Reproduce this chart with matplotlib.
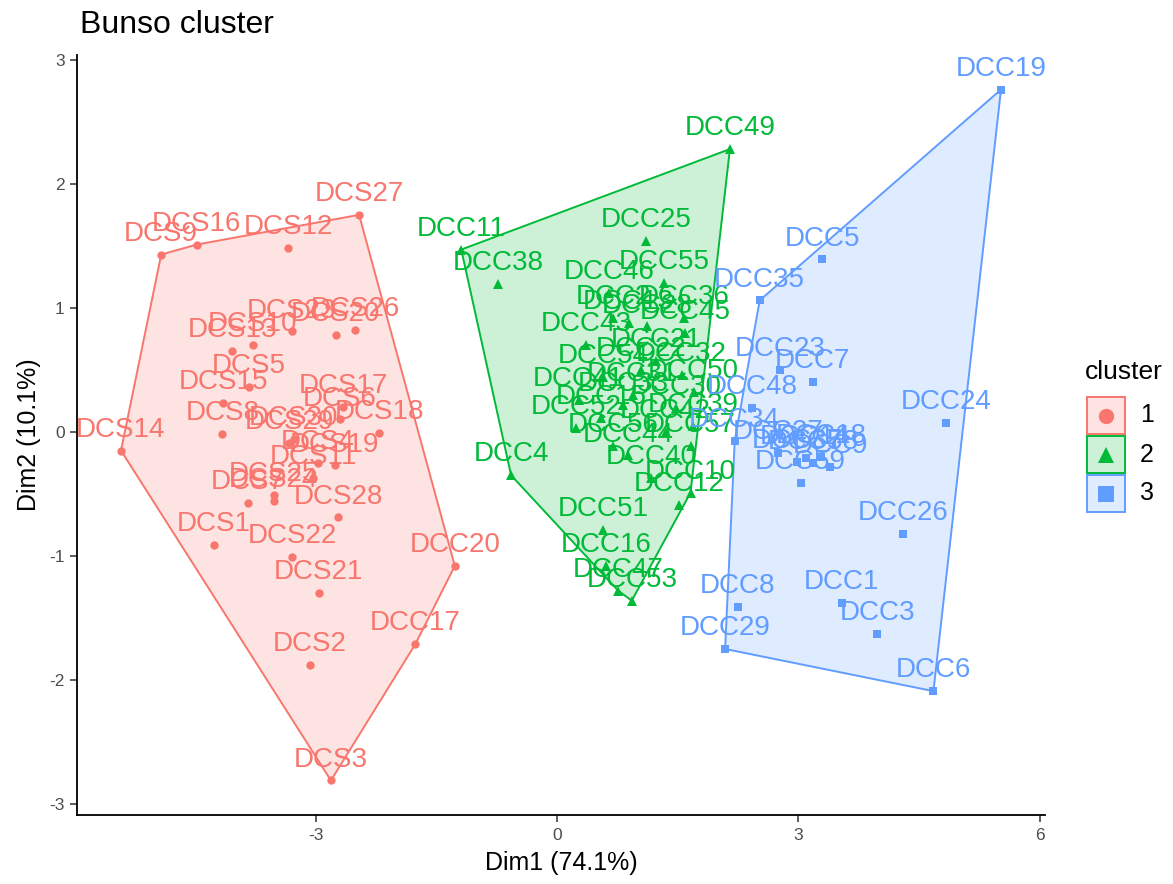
import numpy as np
import matplotlib
matplotlib.use("Agg")
import matplotlib.pyplot as plt
from matplotlib.patches import Polygon, Rectangle

plt.rcParams['font.family'] = ['Liberation Sans', 'DejaVu Sans']
plt.rcParams['axes.unicode_minus'] = False

# ---- cluster 1 ----
c1_names = ["DCS1", "DCS2", "DCS3", "DCS4", "DCS5", "DCS6", "DCS7", "DCS8", "DCS9", "DCS10",
            "DCS11", "DCS12", "DCS13", "DCS14", "DCS15", "DCS16", "DCS17", "DCS18", "DCS19", "DCS20",
            "DCS21", "DCS22", "DCS23", "DCS24", "DCS25", "DCS26", "DCS27", "DCS28", "DCS29", "DCS30",
            "DCC17", "DCC20"]
c1_x = [-4.27, -3.07, -2.81, -2.97, -3.83, -2.70, -3.84, -4.16, -4.92, -3.78,
        -3.03, -3.34, -4.04, -5.42, -4.15, -4.48, -2.66, -2.21, -2.76, -2.75,
        -2.96, -3.29, -3.30, -3.52, -3.52, -2.51, -2.46, -2.72, -3.33, -3.27,
        -1.76, -1.27]
c1_y = [-0.91, -1.88, -2.81, -0.25, 0.36, 0.10, -0.57, -0.02, 1.43, 0.70,
        -0.37, 1.48, 0.65, -0.15, 0.23, 1.51, 0.20, -0.01, -0.27, 0.78,
        -1.30, -1.01, 0.81, -0.56, -0.51, 0.82, 1.75, -0.69, -0.09, -0.06,
        -1.71, -1.08]

# ---- cluster 2 ----
c2_names = ["DCC2", "DCC4", "DCC10", "DCC11", "DCC12", "DCC13", "DCC15", "DCC16", "DCC21", "DCC22",
            "DCC25", "DCC28", "DCC30", "DCC31", "DCC32", "DCC33", "DCC36", "DCC38", "DCC39", "DCC40",
            "DCC41", "DCC42", "DCC43", "DCC44", "DCC45", "DCC46", "DCC47", "DCC49", "DCC50", "DCC51",
            "DCC52", "DCC53", "DCC54", "DCC55", "DCC56", "DCC57"]
c2_x = [0.70, -0.57, 1.66, -1.19, 1.52, 0.89, 0.55, 0.61, 1.23, 1.04,
        1.11, 1.12, 1.48, 0.94, 1.55, 0.82, 1.58, -0.73, 1.69, 1.17,
        0.27, 1.35, 0.36, 0.88, 1.59, 0.65, 0.76, 2.15, 1.70, 0.57,
        0.24, 0.93, 0.57, 1.33, 0.70, 1.66]
c2_y = [0.92, -0.35, -0.49, 1.47, -0.59, 0.88, 0.11, -1.08, 0.57, 0.50,
        1.54, 0.85, 0.19, 0.30, 0.46, 0.22, 0.92, 1.19, 0.05, -0.37,
        0.26, 0.00, 0.70, -0.19, 0.80, 1.12, -1.28, 2.28, 0.32, -0.79,
        0.03, -1.36, 0.44, 1.20, -0.11, -0.11]

# ---- cluster 3 ----
c3_names = ["DCC1", "DCC3", "DCC5", "DCC6", "DCC7", "DCC8", "DCC9", "DCC14", "DCC18", "DCC19",
            "DCC23", "DCC24", "DCC26", "DCC27", "DCC29", "DCC34", "DCC35", "DCC37", "DCC48", "DCC58",
            "DCC59"]
c3_x = [3.54, 3.98, 3.30, 4.68, 3.18, 2.25, 3.40, 3.09, 3.28, 5.52,
        2.77, 4.84, 4.30, 2.75, 2.09, 2.21, 2.52, 2.99, 2.43, 3.18,
        3.03]
c3_y = [-1.38, -1.63, 1.39, -2.09, 0.40, -1.41, -0.28, -0.21, -0.20, 2.76,
        0.50, 0.07, -0.82, -0.17, -1.75, -0.07, 1.06, -0.24, 0.19, -0.25,
        -0.41]

cluster_labels = ["1", "2", "3"]
colors = ["#F8766D", "#00BA38", "#619CFF"]
markers = ["o", "^", "s"]
marker_sizes = [6, 6.5, 5.5]

clusters = [(c1_names, c1_x, c1_y), (c2_names, c2_x, c2_y), (c3_names, c3_x, c3_y)]


def convex_hull(xs, ys):
    pts = sorted(set(zip(xs, ys)))

    def cross(o, a, b):
        return (a[0] - o[0]) * (b[1] - o[1]) - (a[1] - o[1]) * (b[0] - o[0])

    lower, upper = [], []
    for p in pts:
        while len(lower) >= 2 and cross(lower[-2], lower[-1], p) <= 0:
            lower.pop()
        lower.append(p)
    for p in reversed(pts):
        while len(upper) >= 2 and cross(upper[-2], upper[-1], p) <= 0:
            upper.pop()
        upper.append(p)
    return np.array(lower[:-1] + upper[:-1])


W, H = 1173, 884
fig = plt.figure(figsize=(W / 100, H / 100), dpi=100)
ax = fig.add_axes([77 / W, 1 - 815 / H, (1045 - 77) / W, (815 - 55) / H])

all_x = np.concatenate([c1_x, c2_x, c3_x])
all_y = np.concatenate([c1_y, c2_y, c3_y])
xr = all_x.max() - all_x.min()
yr = all_y.max() - all_y.min()
ax.set_xlim(all_x.min() - 0.05 * xr, all_x.max() + 0.05 * xr)
ax.set_ylim(all_y.min() - 0.05 * yr, all_y.max() + 0.05 * yr)

# hulls
for (names, xs, ys), col in zip(clusters, colors):
    hull = convex_hull(xs, ys)
    ax.add_patch(Polygon(hull, closed=True, facecolor=col, alpha=0.2, edgecolor="none", zorder=1))
    ax.add_patch(Polygon(hull, closed=True, facecolor="none", edgecolor=col, linewidth=1.4, zorder=2))

# points
for (names, xs, ys), col, mk, ms in zip(clusters, colors, markers, marker_sizes):
    ax.plot(xs, ys, linestyle="none", marker=mk, markersize=ms, color=col,
            markeredgewidth=0, zorder=3)

# labels
for (names, xs, ys), col in zip(clusters, colors):
    for n, x, y in zip(names, xs, ys):
        ax.annotate(n, (x, y), xytext=(0, 10), textcoords="offset points",
                    ha="center", va="baseline", fontsize=20, color=col, zorder=4,
                    annotation_clip=False)

# axes style (classic)
for s in ["top", "right"]:
    ax.spines[s].set_visible(False)
for s in ["left", "bottom"]:
    ax.spines[s].set_linewidth(1.3)
    ax.spines[s].set_color("black")
ax.set_xticks([-3, 0, 3, 6])
ax.set_yticks([-3, -2, -1, 0, 1, 2, 3])
ax.tick_params(axis="both", direction="out", length=5, width=1.1, color="#333333",
               labelsize=12.5, labelcolor="#4D4D4D", pad=4)
ax.set_xlabel("Dim1 (74.1%)", fontsize=18, labelpad=6)
ax.set_ylabel("Dim2 (10.1%)", fontsize=18, labelpad=6)

fig.text(80 / W, 1 - 25 / H, "Bunso cluster", fontsize=23, ha="left", va="center")

# legend
lax = fig.add_axes([0, 0, 1, 1])
lax.set_xlim(0, W)
lax.set_ylim(H, 0)
lax.axis("off")
lax.text(1085, 372, "cluster", fontsize=19, ha="left", va="center")
key_w, key_h, key_top = 38, 37, 397
for i, (lab, col, mk) in enumerate(zip(cluster_labels, colors, markers)):
    top = key_top + i * (key_h + 2)
    lax.add_patch(Rectangle((1087, top), key_w, key_h, facecolor=col, alpha=0.2, edgecolor="none"))
    lax.add_patch(Rectangle((1087, top), key_w, key_h, facecolor="none", edgecolor=col, linewidth=1.4))
    lax.plot([1087 + key_w / 2], [top + key_h / 2], marker=mk, markersize=11, color=col,
             markeredgewidth=0)
    lax.text(1140, top + key_h / 2, lab, fontsize=18, ha="left", va="center", color="black")

fig.savefig("out.png", dpi=100)
